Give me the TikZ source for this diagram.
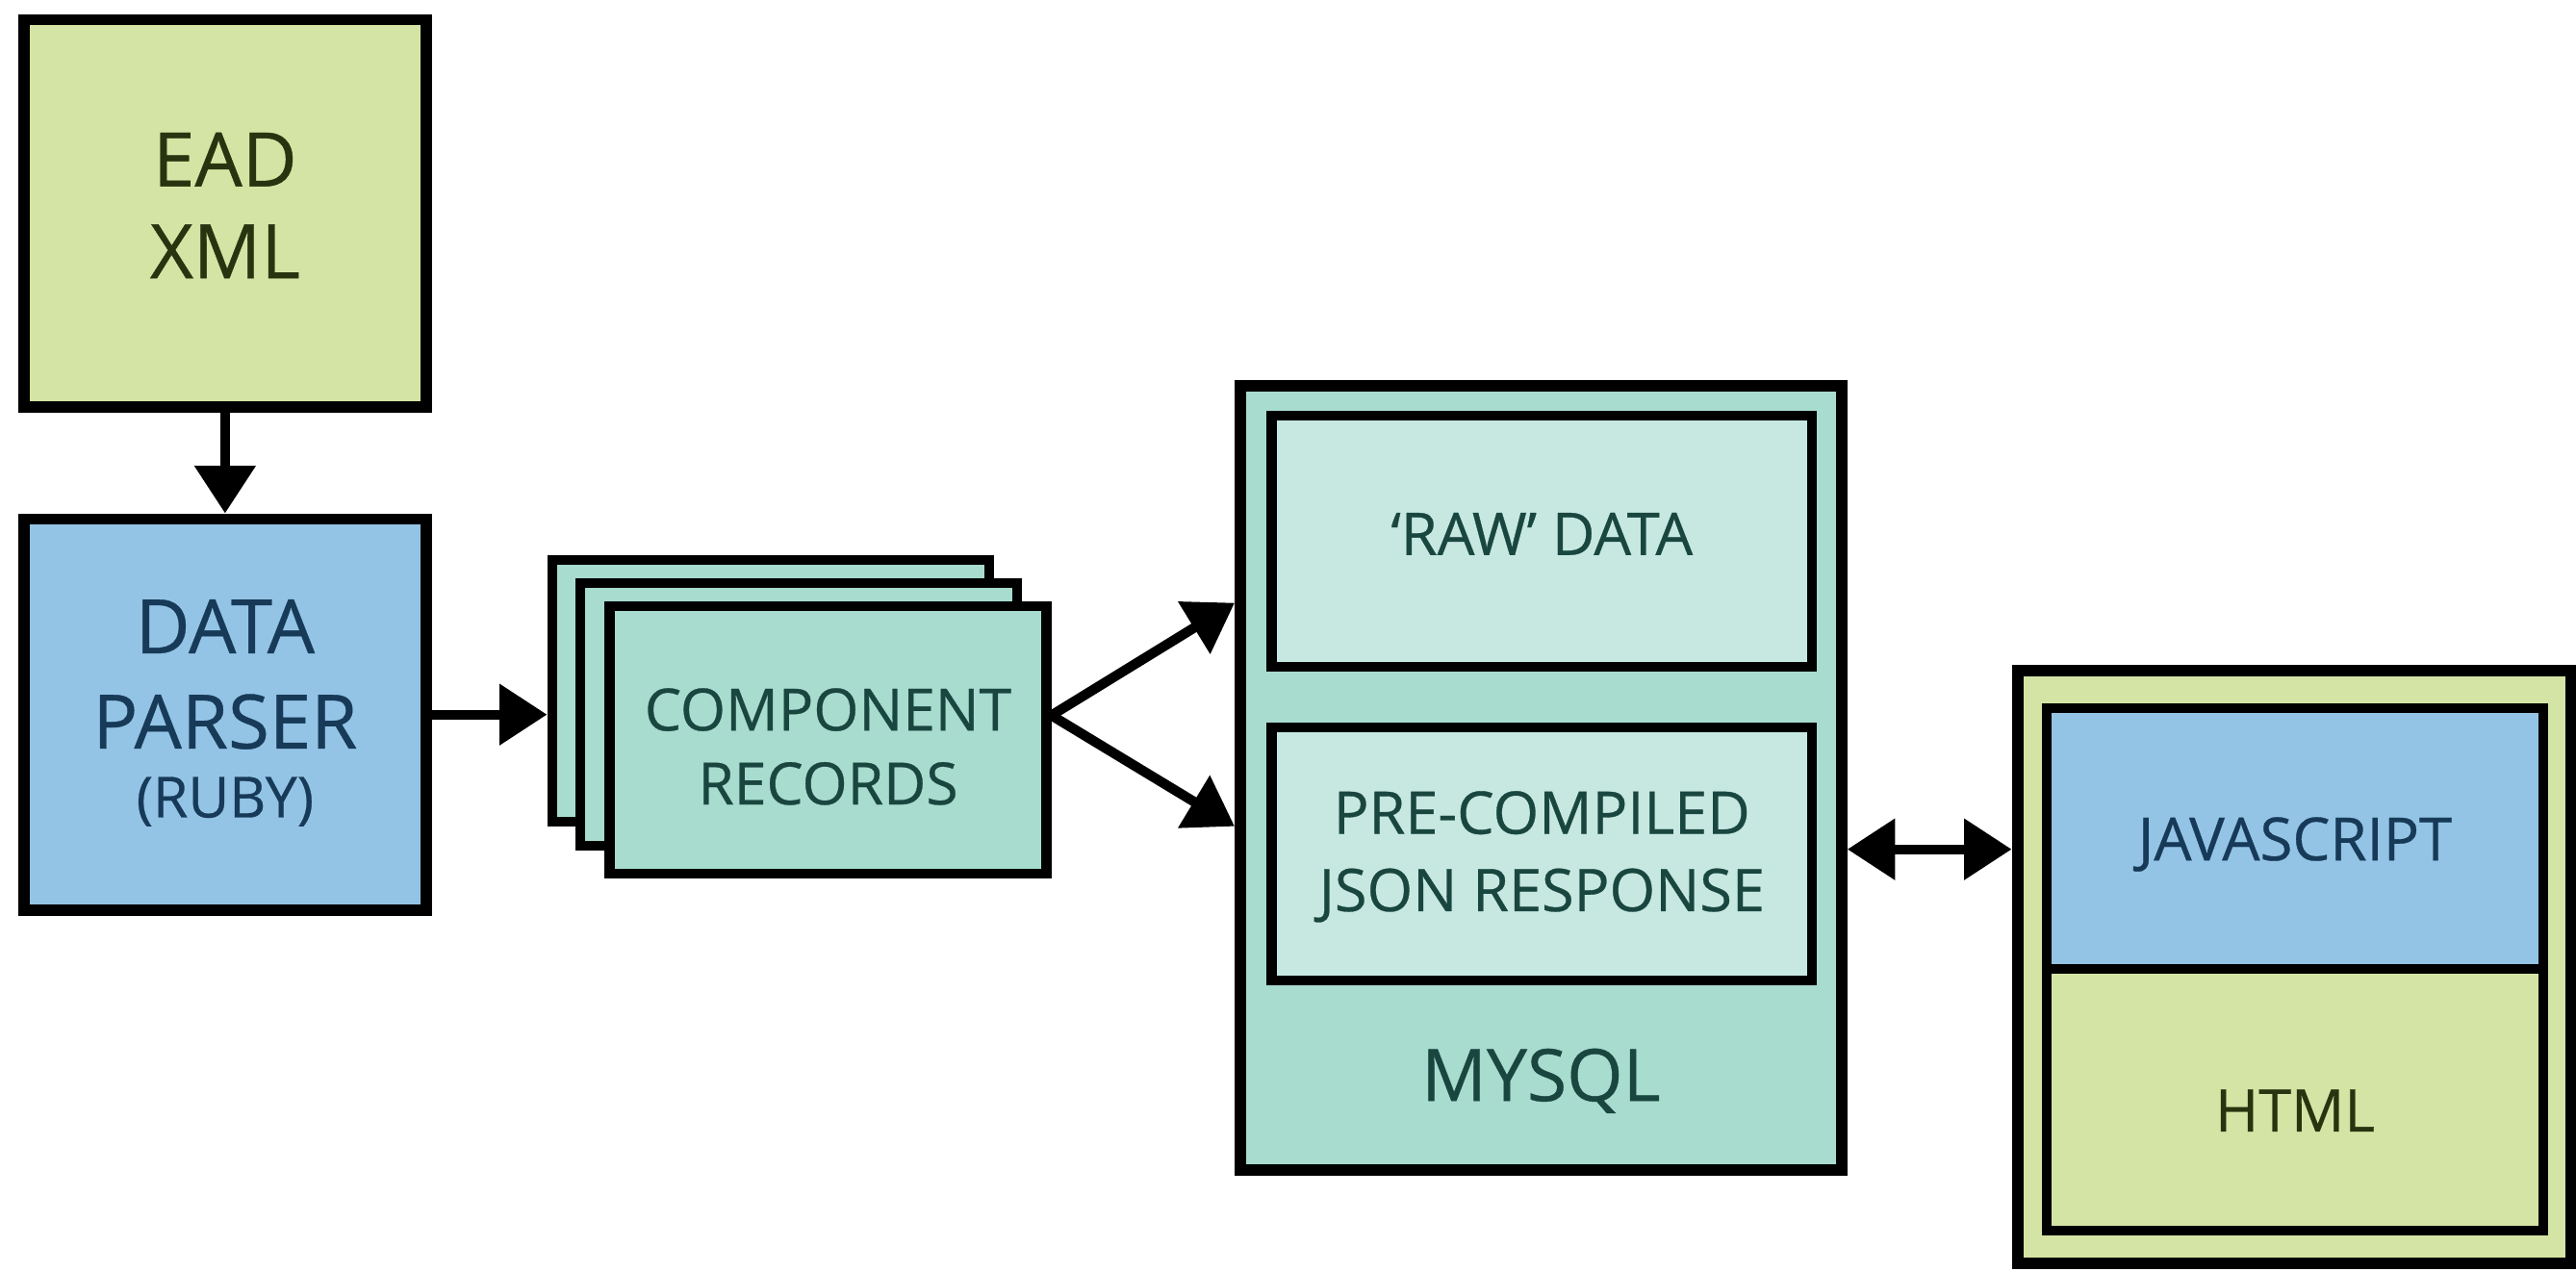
\documentclass[tikz,border=0pt]{standalone}
\usepackage{fontspec}
\setmainfont{Open Sans}[FakeBold=0.5]
\usetikzlibrary{arrows.meta,calc}
\definecolor{greenfill}{HTML}{D4E4A4}
\definecolor{bluefill}{HTML}{93C4E5}
\definecolor{tealfill}{HTML}{A7DCCF}
\definecolor{teallight}{HTML}{C6E8E0}
\definecolor{greentext}{HTML}{26340F}
\definecolor{bluetext}{HTML}{173A58}
\definecolor{tealtext}{HTML}{1A4640}
\tikzset{
  box/.style={draw=black, line width=0.7mm, rectangle, inner sep=0pt},
  innerbox/.style={draw=black, line width=0.6mm, rectangle, inner sep=0pt},
  lbl/.style={inner sep=0pt, align=center},
  tip/.style={Triangle[length=2.9mm,width=3.6mm]},
  conn/.style={line width=0.6mm, -{Triangle[length=2.9mm,width=3.6mm]}},
  dconn/.style={line width=0.6mm, {Triangle[length=2.9mm,width=3.6mm]}-{Triangle[length=2.9mm,width=3.6mm]}},
}
\begin{document}
\begin{tikzpicture}[x=0.1mm,y=-0.1mm]
\useasboundingbox (0,0) rectangle (1568,774.3);
% EAD XML
\node[box, fill=greenfill, minimum width=245*0.1mm, minimum height=236*0.1mm] (ead) at (137,130) {};
\node[lbl, text=greentext, font=\fontsize{13}{15.9}\selectfont] (eadtxt) at (137,125) {EAD\\XML};
% Data parser
\node[box, fill=bluefill, minimum width=245*0.1mm, minimum height=238*0.1mm] (parser) at (137,435) {};
\node[lbl, text=bluetext, font=\fontsize{13}{16.5}\selectfont] (ptxt) at (137,410.5) {DATA\\PARSER};
\node[lbl, text=bluetext, font=\fontsize{9.8}{12}\selectfont] (ruby) at (137,488) {(RUBY)};
% Component records stack
\node[innerbox, fill=tealfill, minimum width=266*0.1mm, minimum height=159*0.1mm] (rec1) at (469,420.5) {};
\node[innerbox, fill=tealfill, minimum width=266*0.1mm, minimum height=160*0.1mm] (rec2) at (486,435) {};
\node[innerbox, fill=tealfill, minimum width=266*0.1mm, minimum height=163*0.1mm] (rec3) at (504,450.5) {};
\node[lbl, text=tealtext, font=\fontsize{10.1}{12.8}\selectfont] (rectxt) at (504,454.5) {COMPONENT\\RECORDS};
% MySQL
\node[box, fill=tealfill, minimum width=366*0.1mm, minimum height=477*0.1mm] (mysql) at (938,473.5) {};
\node[innerbox, fill=teallight, minimum width=329*0.1mm, minimum height=153*0.1mm] (raw) at (938.5,329.5) {};
\node[lbl, text=tealtext, font=\fontsize{10.2}{12}\selectfont] (rawtxt) at (938.5,325) {`RAW' DATA};
\node[innerbox, fill=teallight, minimum width=329*0.1mm, minimum height=154*0.1mm] (pre) at (938.5,520) {};
\node[lbl, text=tealtext, font=\fontsize{10.2}{13.4}\selectfont] (pretxt) at (938.5,521.5) {PRE-COMPILED\\JSON RESPONSE};
\node[lbl, text=tealtext, font=\fontsize{12.5}{14}\selectfont] (mysqllbl) at (938,658) {MYSQL};
% Web client
\node[box, fill=greenfill, minimum width=337*0.1mm, minimum height=361*0.1mm] (web) at (1396.5,588.5) {};
\node[innerbox, fill=bluefill, minimum width=302*0.1mm, minimum height=159*0.1mm] (js) at (1397,510.5) {};
\node[lbl, text=bluetext, font=\fontsize{10.3}{12}\selectfont] (jstxt) at (1397,514) {JAVASCRIPT};
\node[innerbox, fill=greenfill, minimum width=302*0.1mm, minimum height=159*0.1mm] (html) at (1397,669.5) {};
\node[lbl, text=greentext, font=\fontsize{10.2}{12}\selectfont] (htmltxt) at (1397,676) {HTML};
% Connectors
\draw[conn] (ead.south) -- (parser.north);
\draw[conn] (parser.east) -- (parser.east -| rec1.west);
\coordinate (recout) at ($(rec3.east)+(0,-15)$);
\draw[conn] (recout) -- (mysql.west |- 0,367);
\draw[conn] (recout) -- (mysql.west |- 0,503);
\draw[dconn] (mysql.east |- 0,517) -- (web.west |- 0,517);
\end{tikzpicture}
\end{document}
